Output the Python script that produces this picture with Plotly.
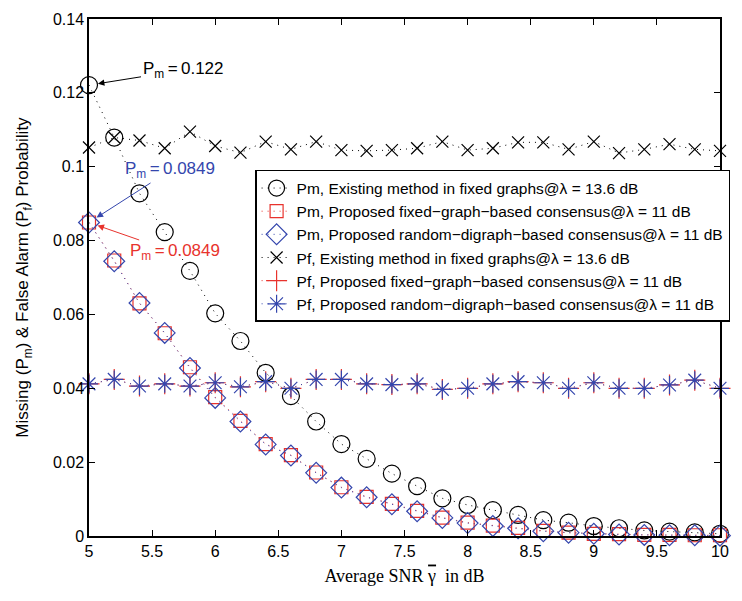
import plotly.graph_objects as go

snr = [5.0, 5.2, 5.4, 5.6, 5.8, 6.0, 6.2, 6.4, 6.6, 6.8, 7.0, 7.2, 7.4, 7.6, 7.8,
       8.0, 8.2, 8.4, 8.6, 8.8, 9.0, 9.2, 9.4, 9.6, 9.8, 10.0]

pm_existing = [0.1221, 0.1079, 0.0928, 0.0823, 0.0718, 0.0603, 0.0528, 0.0442, 0.0379,
               0.0310, 0.0249, 0.0209, 0.0169, 0.0135, 0.0102, 0.0084, 0.0070, 0.0057,
               0.0043, 0.0036, 0.0027, 0.0021, 0.0015, 0.0012, 0.0010, 0.0006]
pm_fixed = [0.0849, 0.0746, 0.0630, 0.0549, 0.0457, 0.0376, 0.0312, 0.0249, 0.0219,
            0.0172, 0.0132, 0.0106, 0.0087, 0.0068, 0.0050, 0.0036, 0.0028, 0.0022,
            0.0014, 0.0009, 0.0006, 0.0005, 0.0003, 0.0003, 0.0002, 0.0002]
pm_random = [0.0849, 0.0744, 0.0631, 0.0550, 0.0455, 0.0374, 0.0310, 0.0248, 0.0218,
             0.0171, 0.0131, 0.0105, 0.0086, 0.0067, 0.0049, 0.0035, 0.0027, 0.0021,
             0.0013, 0.0009, 0.0006, 0.0004, 0.0003, 0.0002, 0.0002, 0.0001]
pf_existing = [0.1052, 0.1079, 0.1071, 0.1050, 0.1095, 0.1056, 0.1038, 0.1068, 0.1047,
               0.1068, 0.1045, 0.1043, 0.1045, 0.1050, 0.1068, 0.1045, 0.1050, 0.1066,
               0.1066, 0.1047, 0.1068, 0.1037, 0.1047, 0.1061, 0.1047, 0.1043]
pf_fixed = [0.0412, 0.0424, 0.0406, 0.0412, 0.0406, 0.0415, 0.0404, 0.0418, 0.0400,
            0.0424, 0.0424, 0.0412, 0.0410, 0.0412, 0.0397, 0.0400, 0.0412, 0.0418,
            0.0415, 0.0400, 0.0415, 0.0400, 0.0400, 0.0409, 0.0422, 0.0400]
pf_random = list(pf_fixed)

x_ticks = [5, 5.5, 6, 6.5, 7, 7.5, 8, 8.5, 9, 9.5, 10]
x_ticklabels = ["5", "5.5", "6", "6.5", "7", "7.5", "8", "8.5", "9", "9.5", "10"]
y_ticks = [0, 0.02, 0.04, 0.06, 0.08, 0.1, 0.12, 0.14]
y_ticklabels = ["0", "0.02", "0.04", "0.06", "0.08", "0.1", "0.12", "0.14"]

RED = "#e8332d"
BLUE = "#3446ad"
BLACK = "#000000"
T = "\u2009"

names = [
    "Pm, Existing method in fixed graphs@λ = 13.6 dB",
    "Pm, Proposed fixed−graph−based consensus@λ = 11 dB",
    "Pm, Proposed random−digraph−based consensus@λ = 11 dB",
    "Pf, Existing method in fixed graphs@λ = 13.6 dB",
    "Pf, Proposed fixed−graph−based consensus@λ = 11 dB",
    "Pf, Proposed random−digraph−based consensus@λ = 11 dB",
]

fig = go.Figure()
series = [
    (pm_existing, BLACK, "circle-open", 17),
    (pm_fixed, RED, "square-open", 13),
    (pm_random, BLUE, "diamond-open", 16),
    (pf_existing, BLACK, "x-thin-open", 12),
    (pf_fixed, RED, "cross-thin-open", 15),
    (pf_random, BLUE, "asterisk-open", 15),
]
for (vals, col, sym, sz), nm in zip(series, names):
    fig.add_trace(go.Scatter(
        x=snr, y=vals, mode="lines+markers", name=nm,
        line=dict(color=col, width=1, dash="1px,5px"),
        marker=dict(symbol=sym, size=sz, color=col, line=dict(color=col, width=1.2)),
        cliponaxis=False,
    ))

axis_common = dict(
    showline=True, linecolor="black", linewidth=1.5, mirror="ticks",
    ticks="inside", ticklen=6, tickcolor="black", tickwidth=1,
    showgrid=False, zeroline=False,
    tickfont=dict(family="Liberation Sans, Arial", size=16, color="black"),
)

fig.update_layout(
    width=742, height=601,
    margin=dict(l=89, r=13, t=19, b=65),
    paper_bgcolor="white", plot_bgcolor="white",
    font=dict(family="Liberation Sans, Arial", color="black"),
    xaxis=dict(range=[5, 10], tickvals=x_ticks, ticktext=x_ticklabels,
               title=dict(text="Average SNR <span style='text-decoration:overline'>γ</span>  in dB",
                          font=dict(family="Liberation Serif, Times New Roman", size=18),
                          standoff=10),
               **axis_common),
    yaxis=dict(range=[0, 0.14], tickvals=y_ticks, ticktext=y_ticklabels,
               title=dict(text="Missing (P<sub>m</sub>) & False Alarm (P<sub>f</sub>) Probability",
                          font=dict(family="Liberation Sans, Arial", size=17),
                          standoff=20),
               **axis_common),
    legend=dict(x=1.016, xanchor="right", y=0.708, yanchor="top",
                bgcolor="white", bordercolor="black", borderwidth=1.5,
                font=dict(family="Liberation Sans, Arial", size=15.5, color="black"),
                tracegroupgap=0),
    showlegend=True,
)

ann_font = dict(family="Liberation Sans, Arial", size=17)
fig.add_annotation(x=5, y=pm_existing[0], xref="x", yref="y",
                   text=f"P<sub>m</sub>{T}={T}0.122", showarrow=True,
                   ax=94, ay=-15, arrowhead=2, arrowsize=1.3, arrowwidth=1,
                   arrowcolor=BLACK, standoff=9, font=dict(color=BLACK, **ann_font))
fig.add_annotation(x=5, y=pm_random[0], xref="x", yref="y",
                   text=f"P<sub>m</sub>{T}={T}0.0849", showarrow=True,
                   ax=81, ay=-52, arrowhead=2, arrowsize=1.3, arrowwidth=1,
                   arrowcolor=BLUE, standoff=9, font=dict(color=BLUE, **ann_font))
fig.add_annotation(x=5, y=pm_fixed[0], xref="x", yref="y",
                   text=f"P<sub>m</sub>{T}={T}0.0849", showarrow=True,
                   ax=86, ay=30, arrowhead=2, arrowsize=1.3, arrowwidth=1,
                   arrowcolor=RED, standoff=9, font=dict(color=RED, **ann_font))

fig.write_html("out.html")
